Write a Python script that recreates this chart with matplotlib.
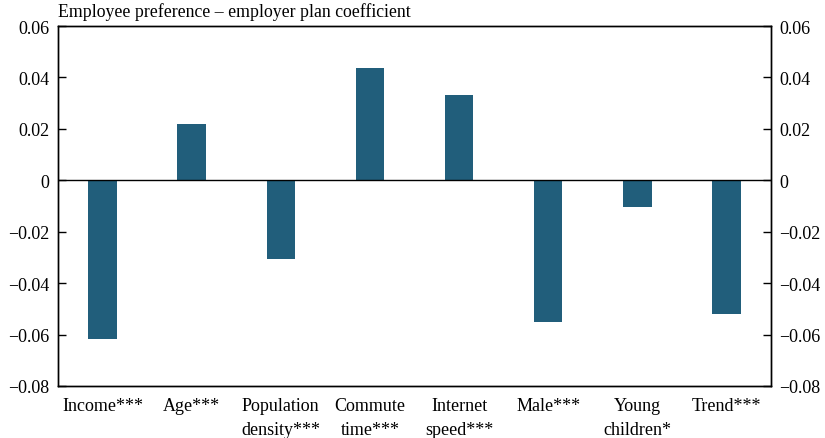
import matplotlib
matplotlib.use("Agg")
import matplotlib.pyplot as plt
import numpy as np

categories = ["Income***", "Age***", "Population\ndensity***", "Commute\ntime***",
              "Internet\nspeed***", "Male***", "Young\nchildren*", "Trend***"]
coefficients = [-0.0618, 0.0218, -0.0307, 0.0438, 0.0331, -0.0552, -0.0105, -0.0521]
y_ticks = [-0.08, -0.06, -0.04, -0.02, 0, 0.02, 0.04, 0.06]
y_tick_labels = ["\u22120.08", "\u22120.06", "\u22120.04", "\u22120.02", "0", "0.02", "0.04", "0.06"]

plt.rcParams['font.family'] = ['Liberation Serif', 'DejaVu Serif']

fig = plt.figure(figsize=(8.25, 4.39), dpi=100)
ax = fig.add_axes([58/825, 1-387/439, (771-58)/825, (387-27)/439])

x = np.arange(len(categories))
ax.bar(x, coefficients, width=0.32, color="#215e7b", zorder=2)
ax.axhline(0, color="black", lw=1, zorder=3)

ax.set_xlim(-0.5, len(categories) - 0.5)
ax.set_ylim(-0.08, 0.06)
ax.set_xticks(x)
ax.set_xticklabels(categories, fontsize=13, linespacing=1.55)
ax.tick_params(axis="x", length=0, pad=8)

ax.set_yticks(y_ticks)
ax.set_yticklabels(y_tick_labels, fontsize=13)
ax.tick_params(axis="y", direction="in", length=6, width=1, pad=6)

ax2 = ax.twinx()
ax2.set_ylim(ax.get_ylim())
ax2.set_yticks(y_ticks)
ax2.set_yticklabels(y_tick_labels, fontsize=13)
ax2.tick_params(axis="y", direction="in", length=6, width=1, pad=6)

for a in (ax, ax2):
    for s in a.spines.values():
        s.set_linewidth(1)

fig.text(58/825, 1-12/439, "Employee preference \u2013 employer plan coefficient",
         fontsize=12.8, ha="left", va="center")

fig.savefig("out.png", dpi=100)
